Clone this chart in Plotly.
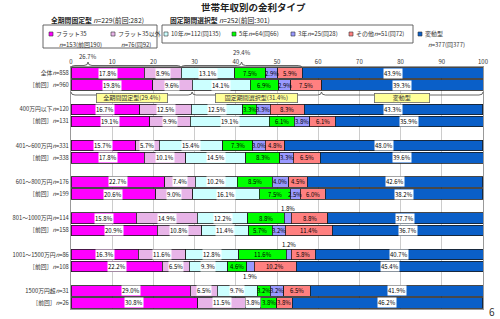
import plotly.graph_objects as go

# ---------------- data ----------------
row_labels = ["全体<i>n</i>=858", "［前回］<i>n</i>=960",
              "400万円以下<i>n</i>=120", "［前回］<i>n</i>=131",
              "401～600万円<i>n</i>=331", "［前回］<i>n</i>=338",
              "601～800万円<i>n</i>=176", "［前回］<i>n</i>=199",
              "801～1000万円<i>n</i>=114", "［前回］<i>n</i>=158",
              "1001～1500万円<i>n</i>=86", "［前回］<i>n</i>=108",
              "1500万円超<i>n</i>=31", "［前回］<i>n</i>=26"]

series_names = ["フラット35", "フラット35以外", "10年", "5年", "3年", "その他", "変動型"]
legend_counts = ["<i>n</i>=153(前回190)", "<i>n</i>=76(同92)", "<i>n</i>=112(同135)",
                 "<i>n</i>=64(同66)", "<i>n</i>=25(同28)", "<i>n</i>=51(同72)",
                 "<i>n</i>=377(同377)"]

flat35       = [17.8, 19.8, 16.7, 19.1, 15.7, 17.8, 22.7, 20.6, 15.8, 20.9, 16.3, 22.2, 29.0, 30.8]
flat35_other = [8.9, 9.6, 12.5, 9.9, 5.7, 10.1, 7.4, 9.0, 14.9, 10.8, 11.6, 6.5, 6.5, 11.5]
fixed10      = [13.1, 14.1, 12.5, 19.1, 15.4, 14.5, 10.2, 16.1, 12.2, 11.4, 12.8, 9.3, 9.7, 3.8]
fixed5       = [7.5, 6.9, 3.3, 6.1, 7.3, 8.3, 8.5, 7.5, 8.8, 5.7, 11.6, 4.6, 3.2, 3.8]
fixed3       = [2.9, 2.9, 3.3, 3.8, 3.0, 3.3, 4.0, 2.5, 1.8, 3.2, 1.2, 1.9, 3.2, 0.0]
fixed_other  = [5.9, 7.5, 8.3, 6.1, 4.8, 6.5, 4.5, 6.0, 8.8, 11.4, 5.8, 10.2, 6.5, 3.8]
variable     = [43.9, 39.3, 43.3, 35.9, 48.0, 39.6, 42.6, 38.2, 37.7, 36.7, 40.7, 45.4, 41.9, 46.2]

x_ticks = [0, 10, 20, 30, 40, 50, 60, 70, 80, 90, 100]
group_titles = ["全期間固定型", "固定期間選択型", "変動型"]
group_headers = [("全期間固定型", " <i>n</i>=229(前回:282)"),
                 ("固定期間選択型", " <i>n</i>=252(前回:301)")]
chart_title = "世帯年収別の金利タイプ"
page_no = "6"

# ---------------- styling / layout ----------------
series = [flat35, flat35_other, fixed10, fixed5, fixed3, fixed_other, variable]
colors = ["#FF00FF", "#E8B4E8", "#CCFFFF", "#00FF00", "#9999FF", "#FF8080", "#0A5FC8"]
boxed = {0, 1, 2, 6}
row_slots = [0, 1, 3, 4, 6, 7, 9, 10, 12, 13, 15, 16, 18, 19]

W, H = 500, 319
ML, MR, MT, MB = 71, 17, 67, 10
PW = W - ML - MR
PH = H - MT - MB
FONT = "Noto Sans CJK JP"
TXT = "#333333"


def X(xp):
    return (xp - ML) / PW


def Y(yp):
    return (H - MB - yp) / PH


def dpx(v):
    return ML + v / 100.0 * PW


def note(xp, yp, text, size=6, xanchor="center", color=TXT, **kw):
    d = dict(x=X(xp), y=Y(yp), xref="paper", yref="paper", text=text,
             xanchor=xanchor, yanchor="middle", showarrow=False,
             font=dict(size=size, color=color, family=FONT))
    d.update(kw)
    return d


fig = go.Figure()
for name, vals, col in zip(series_names, series, colors):
    fig.add_bar(y=row_slots, x=vals, orientation="h", name=name,
                marker=dict(color=col, line=dict(color="#1a1a1a", width=0.8)),
                showlegend=False, hoverinfo="skip")

ann = []
shapes = []

# value labels
cum = [0.0] * len(row_slots)
for si, vals in enumerate(series):
    for ri, v in enumerate(vals):
        c = cum[ri] + v / 2
        if v >= 2:
            a = dict(x=c, y=row_slots[ri], xref="x", yref="y", text=f"{v:.1f}%",
                     xanchor="center", yanchor="middle",
                     showarrow=False, font=dict(size=6, color="#000", family=FONT),
                     borderpad=0)
            if si in boxed:
                a["bgcolor"] = "white"
            ann.append(a)
        elif v > 0:
            off = -0.8 if ri % 2 == 0 else 0.8
            ann.append(dict(x=c, y=row_slots[ri] + off, xref="x", yref="y",
                            text=f"{v:.1f}%", showarrow=False,
                            xanchor="center", yanchor="middle",
                            font=dict(size=6, color="#000", family=FONT)))
        cum[ri] += v


def brace(x0, x1, xt, y_end, y_mid, y_tip, r=4):
    pts = [
        f"M {X(x0)},{Y(y_end)}",
        f"Q {X(x0)},{Y(y_mid)} {X(x0 + r)},{Y(y_mid)}",
        f"L {X(xt - r)},{Y(y_mid)}",
        f"Q {X(xt)},{Y(y_mid)} {X(xt)},{Y(y_tip)}",
        f"Q {X(xt)},{Y(y_mid)} {X(xt + r)},{Y(y_mid)}",
        f"L {X(x1 - r)},{Y(y_mid)}",
        f"Q {X(x1)},{Y(y_mid)} {X(x1)},{Y(y_end)}",
    ]
    return dict(type="path", path=" ".join(pts), xref="paper", yref="paper",
                line=dict(color="#555", width=0.9))


# top braces (current, overall row)
g1 = flat35[0] + flat35_other[0]
g2 = fixed10[0] + fixed5[0] + fixed3[0] + fixed_other[0]
tip1 = 88
tip2 = (dpx(g1) + dpx(g1 + g2)) / 2
shapes.append(brace(dpx(0), dpx(g1), tip1, 68, 65.5, 62))
shapes.append(brace(dpx(g1), dpx(g1 + g2), tip2, 68, 65.5, 62))
ann.append(note(tip1, 56.5, f"{g1:.1f}%"))
ann.append(note(tip2, 52.5, f"{g2:.1f}%"))

# bottom braces (previous, overall row)
p1 = flat35[1] + flat35_other[1]
p2 = fixed10[1] + fixed5[1] + fixed3[1] + fixed_other[1]
edges = [0, p1, p1 + p2, 100]
labels = [f"{group_titles[0]}({p1:.1f}%)", f"{group_titles[1]}({p2:.1f}%)", group_titles[2]]
widths = [70, 81, 54]
for i in range(3):
    a0, a1 = dpx(edges[i]), dpx(edges[i + 1])
    t = (a0 + a1) / 2
    shapes.append(brace(a0, a1, t, 92, 95, 98))
    ann.append(note(t, 98.5, labels[i], bgcolor="#FFFF99", bordercolor="#666",
                    borderwidth=0.8, borderpad=0, width=widths[i], height=8))

# legend boxes
shapes.append(dict(type="rect", xref="paper", yref="paper", x0=X(43), x1=X(157),
                   y0=Y(48), y1=Y(25), line=dict(color="#555", width=0.9)))
shapes.append(dict(type="rect", xref="paper", yref="paper", x0=X(162), x1=X(413),
                   y0=Y(43), y1=Y(25), line=dict(color="#555", width=0.9)))

leg_pos = [(51, 34, True), (113, 34, True), (166, 34, False), (234, 34, False),
           (293, 34, False), (351, 34, False), (420, 34, True)]
for i, (lx, ly, two_line) in enumerate(leg_pos):
    shapes.append(dict(type="rect", xref="paper", yref="paper", x0=X(lx - 2), x1=X(lx + 2),
                       y0=Y(ly + 2), y1=Y(ly - 2), fillcolor=colors[i],
                       line=dict(color="#333", width=0.6)))
    if two_line:
        ann.append(note(lx + 3, ly, series_names[i], xanchor="left"))
        ann.append(note(lx + 6, ly + 10, legend_counts[i], xanchor="left"))
    else:
        ann.append(note(lx + 3, ly, series_names[i] + legend_counts[i], xanchor="left"))

# headers & title
for (hx, (bold, rest)) in zip([49, 168], group_headers):
    ann.append(note(hx, 20, f"<b>{bold}</b>{rest}", size=6.8, xanchor="left", color="#222"))
ann.append(note(253, 7, f"<b>{chart_title}</b>", size=9.5, color="#222"))
ann.append(note(492, 311, page_no, size=10))

fig.update_layout(
    width=W, height=H, margin=dict(l=ML, r=MR, t=MT, b=MB),
    paper_bgcolor="white", plot_bgcolor="white",
    barmode="stack", bargap=0.12,
    font=dict(family=FONT, size=6, color=TXT),
    annotations=ann, shapes=shapes,
    xaxis=dict(range=[0, 100], side="top", tickvals=x_ticks, ticksuffix="%",
               tickfont=dict(size=6, color=TXT), showgrid=True, gridcolor="#cccccc",
               gridwidth=0.8, showline=True, linecolor="#999", mirror=True,
               zeroline=False, ticks="", fixedrange=True),
    yaxis=dict(range=[19.5, -0.5], tickvals=row_slots, ticktext=row_labels,
               tickfont=dict(size=5.8, color=TXT), showgrid=False, showline=True,
               linecolor="#999", mirror=True, zeroline=False, ticks="", fixedrange=True),
)

fig.write_html("out.html")
